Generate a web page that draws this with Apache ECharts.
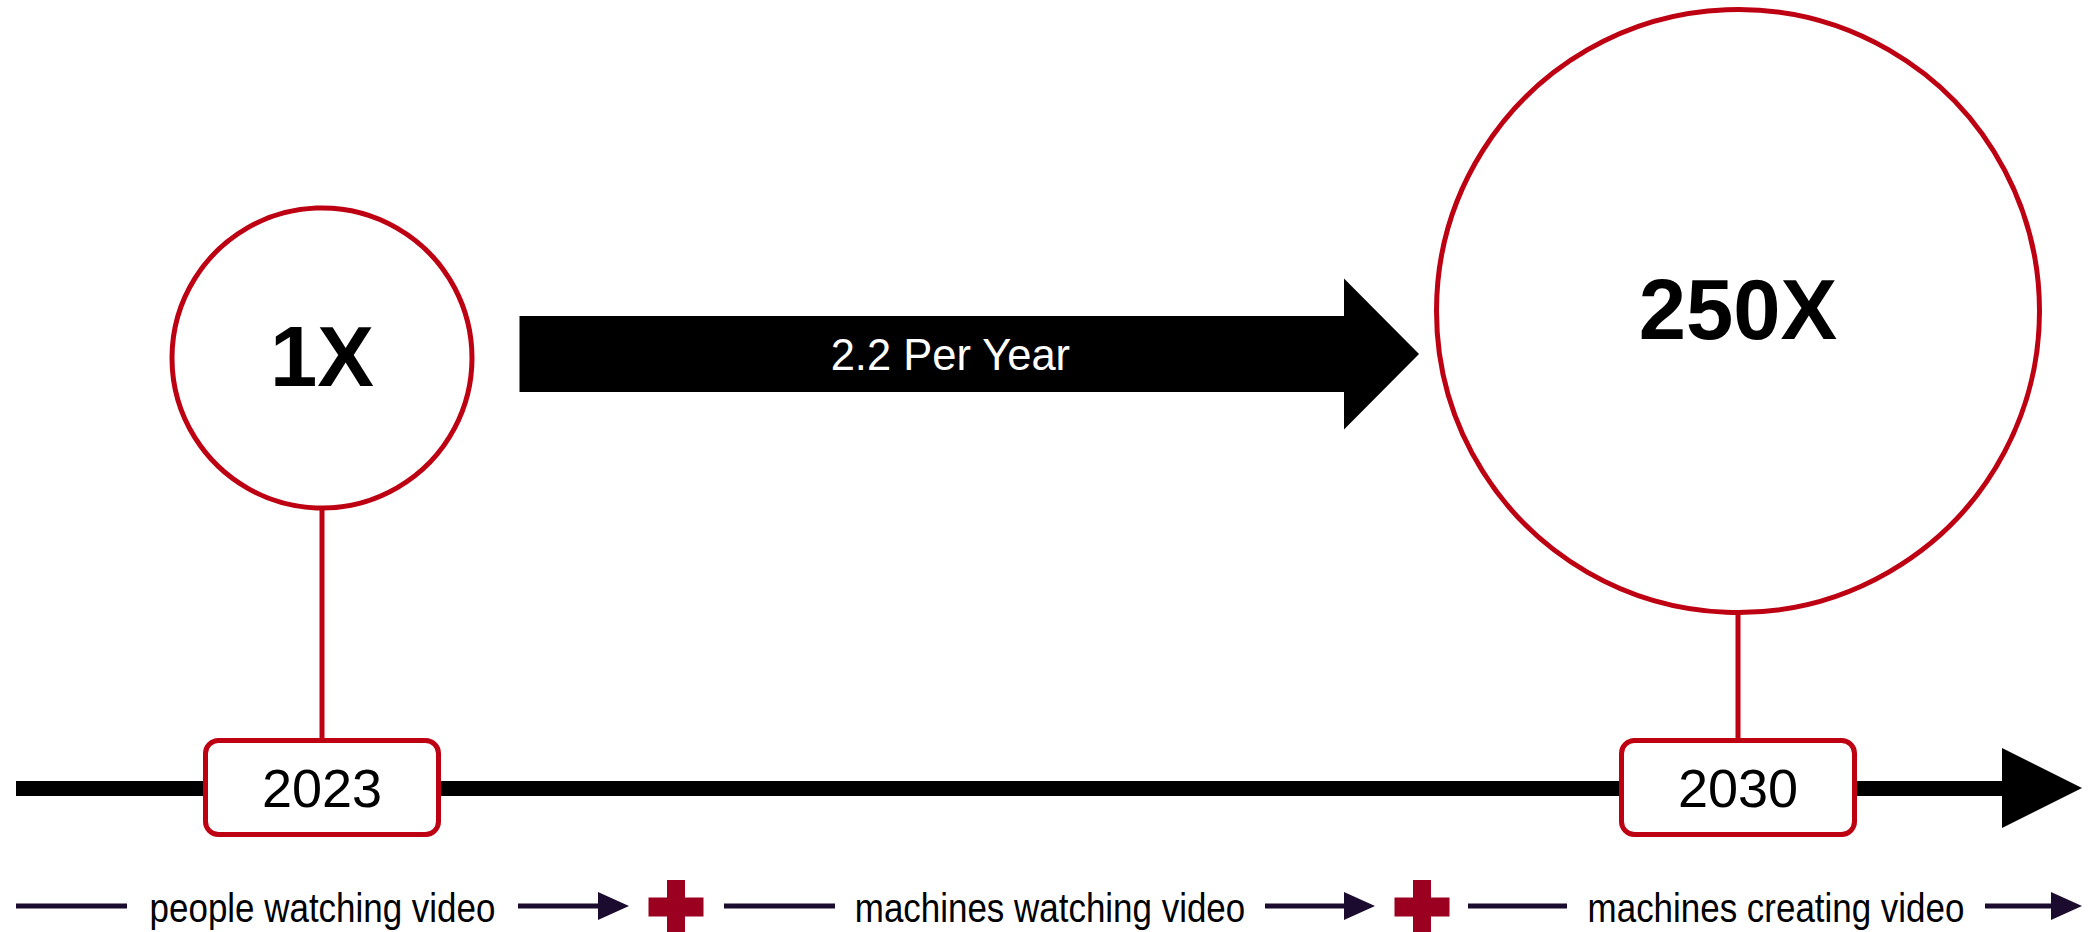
<!DOCTYPE html>
<html>
<head>
<meta charset="utf-8">
<script src="https://cdn.jsdelivr.net/npm/echarts@6/dist/echarts.min.js"></script>
<style>html,body{margin:0;padding:0;background:#fff}#chart{width:2097px;height:932px}</style>
</head>
<body>
<div id="chart"></div>
<script>
// ---------- data ----------
const years = [2023, 2030];
const multipliers = ['1X', '250X'];
const growthLabel = '2.2 Per Year';
const legendLabels = ['people watching video', 'machines watching video', 'machines creating video'];

// ---------- layout / style ----------
const FONT = '"Liberation Sans", Arial, Helvetica, sans-serif';
const RED = '#bd0012';
const PLUS_RED = '#9b0020';
const NAVY = '#1b0b2e';
const xMin = 2021.48729, xMax = 2031.50282;      // timeline extent around the years
const bubbleCenterY = [358, 311];
const bubbleRadius = [150, 301.5];
const boxTop = 740.5, boxHeight = 94, boxWidth = 233, boxRadius = 13;
const arrowY = 354, arrowBodyHalf = 38, arrowHeadHalf = 75.5, arrowHeadLen = 75;
const arrowGapStart = 45, arrowGapEnd = 15;
const legendY = 906;
const legendLineX = [[16, 127], [724, 835], [1468, 1567]];
const legendArrowX = [[518, 629], [1265, 1375], [1985, 2082]];
const plusX = [676, 1422];

const chart = echarts.init(document.getElementById('chart'), null, { renderer: 'svg' });

// legend graphics
const graphics = [];
legendLabels.forEach((lab, i) => {
  const [l0, l1] = legendLineX[i];
  const [a0, a1] = legendArrowX[i];
  graphics.push({ type: 'line', shape: { x1: l0, y1: legendY, x2: l1, y2: legendY }, style: { stroke: NAVY, lineWidth: 5 } });
  graphics.push({ type: 'text', x: (l1 + a0) / 2, y: legendY + 2, scaleX: 0.874,
    style: { text: lab, fill: '#000', font: '40px ' + FONT, align: 'center', verticalAlign: 'middle' } });
  graphics.push({ type: 'line', shape: { x1: a0, y1: legendY, x2: a1 - 30, y2: legendY }, style: { stroke: NAVY, lineWidth: 5 } });
  graphics.push({ type: 'polygon', shape: { points: [[a1 - 31, legendY - 14], [a1, legendY], [a1 - 31, legendY + 14]] }, style: { fill: NAVY } });
});
plusX.forEach(cx => {
  graphics.push({ type: 'rect', shape: { x: cx - 27.5, y: legendY - 8.5, width: 55, height: 19 }, style: { fill: PLUS_RED } });
  graphics.push({ type: 'rect', shape: { x: cx - 9, y: legendY - 26, width: 18, height: 56 }, style: { fill: PLUS_RED } });
});

const option = {
  backgroundColor: '#fff',
  animation: false,
  grid: { left: 16, right: 55, top: 0, bottom: 144, outerBoundsMode: 'none', containLabel: false },
  xAxis: {
    type: 'value', min: xMin, max: xMax,
    axisLine: { show: true, onZero: false, symbol: ['none', 'triangle'], symbolSize: [80, 80],
      lineStyle: { color: '#000', width: 15, cap: 'butt' } },
    axisTick: { show: false }, axisLabel: { show: false }, splitLine: { show: false }
  },
  yAxis: { type: 'value', min: 0, max: 788, inverse: true, show: false, splitLine: { show: false } },
  graphic: graphics,
  series: [
    { // connectors
      type: 'custom', z: 2,
      data: years.map(y => [y, 0]),
      renderItem(params, api) {
        const i = params.dataIndex;
        const p1 = api.coord([years[i], bubbleCenterY[i] + bubbleRadius[i]]);
        const p2 = api.coord([years[i], boxTop]);
        return { type: 'line', shape: { x1: p1[0], y1: p1[1], x2: p2[0], y2: p2[1] }, style: { stroke: RED, lineWidth: 5 } };
      }
    },
    { // year boxes
      type: 'custom', z: 4,
      data: years.map(y => [y, 0]),
      renderItem(params, api) {
        const i = params.dataIndex;
        const p = api.coord([years[i], boxTop]);
        return { type: 'group', children: [
          { type: 'rect', shape: { x: p[0] - boxWidth / 2, y: p[1], width: boxWidth, height: boxHeight, r: boxRadius },
            style: { fill: '#fff', stroke: RED, lineWidth: 5 } },
          { type: 'text', x: p[0], y: p[1] + boxHeight / 2,
            style: { text: String(years[i]), fill: '#000', font: '54px ' + FONT, align: 'center', verticalAlign: 'middle' } }
        ] };
      }
    },
    { // growth arrow
      type: 'custom', z: 3,
      data: [[years[0], 0]],
      renderItem(params, api) {
        const a = api.coord([years[0], arrowY]);
        const b = api.coord([years[1], arrowY]);
        const x0 = a[0] + bubbleRadius[0] + 2.5 + arrowGapStart;
        const tip = b[0] - bubbleRadius[1] - 2.5 - arrowGapEnd;
        const hx = tip - arrowHeadLen;
        const y = a[1];
        return { type: 'group', children: [
          { type: 'polygon', shape: { points: [[x0, y - arrowBodyHalf], [hx, y - arrowBodyHalf], [hx, y - arrowHeadHalf], [tip, y],
              [hx, y + arrowHeadHalf], [hx, y + arrowBodyHalf], [x0, y + arrowBodyHalf]] }, style: { fill: '#000' } },
          { type: 'text', x: x0 + (tip - x0) * 0.479, y: y + 1,
            style: { text: growthLabel, fill: '#fff', font: '43.5px ' + FONT, align: 'center', verticalAlign: 'middle' } }
        ] };
      }
    },
    { // bubbles
      type: 'scatter', z: 5,
      data: years.map((y, i) => [y, bubbleCenterY[i]]),
      symbol: 'circle',
      symbolSize: (val, params) => bubbleRadius[params.dataIndex] * 2,
      itemStyle: { color: '#fff', borderColor: RED, borderWidth: 5, opacity: 1 },
      label: { show: true, position: 'inside', formatter: p => multipliers[p.dataIndex], offset: [0, -2],
        color: '#000', fontSize: 85, fontWeight: 'bold', fontFamily: FONT },
      emphasis: { disabled: true },
      silent: true
    }
  ]
};
chart.setOption(option);
</script>
</body>
</html>
